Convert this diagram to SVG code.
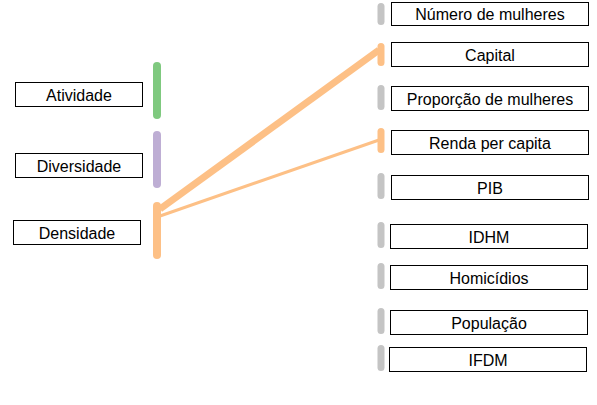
<svg xmlns="http://www.w3.org/2000/svg" width="597" height="405" viewBox="0 0 597 405">
<style>
.box{fill:#fff;stroke:#000;stroke-width:1}
.lbl{font-family:"Liberation Sans",Arial,sans-serif;font-size:16px;fill:#000;text-anchor:middle}
.gray{fill:#c4c4c4}
.org{fill:#fdc086}
.lnk{stroke:#fdc086;fill:none}
</style>
<rect width="597" height="405" fill="#fff"/>
<g id="connectors">
<line class="lnk" x1="160" y1="209" x2="379" y2="50" stroke-width="7"/>
<line class="lnk" x1="160" y1="216" x2="379" y2="140" stroke-width="3"/>
</g>
<g id="atividade">
<rect class="box" x="15.5" y="82.5" width="127" height="24"/>
<text class="lbl" x="79" y="101">Atividade</text>
<rect x="153" y="62" width="8" height="57" rx="4" fill="#7fc97f"/>
</g>
<g id="diversidade">
<rect class="box" x="15.5" y="153.5" width="127" height="24"/>
<text class="lbl" x="79" y="172">Diversidade</text>
<rect x="153" y="131" width="8" height="57" rx="4" fill="#beaed4"/>
</g>
<g id="densidade">
<rect class="box" x="13.5" y="220.5" width="127" height="24"/>
<text class="lbl" x="77" y="239">Densidade</text>
<rect class="org" x="153" y="202" width="8" height="57" rx="4"/>
</g>
<g id="numero">
<rect class="box" x="391.5" y="2.5" width="197" height="23"/>
<text class="lbl" x="490" y="20">Número de mulheres</text>
<rect class="gray" x="377.5" y="3" width="7" height="22" rx="3.5"/>
</g>
<g id="capital">
<rect class="box" x="391.5" y="42.5" width="197" height="24"/>
<text class="lbl" x="490" y="61">Capital</text>
<rect class="org" x="377.5" y="43" width="7" height="23" rx="3.5"/>
</g>
<g id="proporcao">
<rect class="box" x="391.5" y="86.5" width="197" height="24"/>
<text class="lbl" x="490" y="105">Proporção de mulheres</text>
<rect class="gray" x="377.5" y="85" width="7" height="25" rx="3.5"/>
</g>
<g id="renda">
<rect class="box" x="391.5" y="130.5" width="197" height="24"/>
<text class="lbl" x="490" y="149">Renda per capita</text>
<rect class="org" x="377.5" y="128" width="7" height="25" rx="3.5"/>
</g>
<g id="pib">
<rect class="box" x="391.5" y="175.5" width="197" height="24"/>
<text class="lbl" x="490" y="194">PIB</text>
<rect class="gray" x="377.5" y="173" width="7" height="26" rx="3.5"/>
</g>
<g id="idhm">
<rect class="box" x="390.5" y="224.5" width="197" height="24"/>
<text class="lbl" x="489" y="243">IDHM</text>
<rect class="gray" x="377.5" y="222" width="7" height="26" rx="3.5"/>
</g>
<g id="homicidios">
<rect class="box" x="390.5" y="265.5" width="197" height="24"/>
<text class="lbl" x="489" y="284">Homicídios</text>
<rect class="gray" x="377.5" y="263" width="7" height="26" rx="3.5"/>
</g>
<g id="populacao">
<rect class="box" x="390.5" y="310.5" width="197" height="24"/>
<text class="lbl" x="489" y="329">População</text>
<rect class="gray" x="377.5" y="308" width="7" height="26" rx="3.5"/>
</g>
<g id="ifdm">
<rect class="box" x="389.5" y="347.5" width="197" height="24"/>
<text class="lbl" x="488" y="366">IFDM</text>
<rect class="gray" x="377.5" y="345" width="7" height="26" rx="3.5"/>
</g>
</svg>
